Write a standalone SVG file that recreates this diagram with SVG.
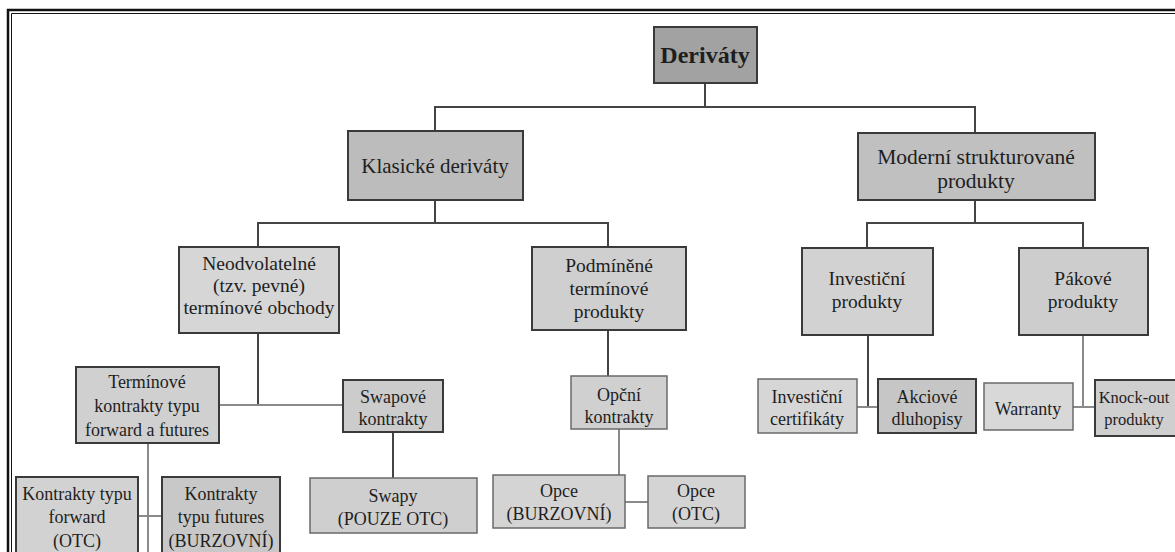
<svg xmlns="http://www.w3.org/2000/svg" width="1175" height="552" viewBox="0 0 1175 552">
<style>
text{font-family:"Liberation Serif","Times New Roman",serif;fill:#1e1e1e;text-anchor:middle}
.t18{font-size:19.5px}
.t17{font-size:18px}
.box{stroke:#3a3a3a;stroke-width:2}
.lt{stroke:#6a6a6a;stroke-width:1.5}
.c{fill:none;stroke:#444;stroke-width:2}
.cl{fill:none;stroke:#8a8a8a;stroke-width:2}
</style>
<rect width="1175" height="552" fill="#fff"/>
<g id="frame" fill="none" stroke="#111">
<path d="M8,552 V10 H1175" stroke-width="2.5"/>
<path d="M11.5,552 V13.5 H1175" stroke-width="1"/>
</g>
<g id="connectors">
<path class="c" d="M705,83 V107 M435,131 V107 H975 V133"/>
<path class="c" d="M435,200 V223 M258,247 V223 H608 V247"/>
<path class="c" d="M975,200 V223 M867,248 V223 H1083 V248"/>
<path class="c" d="M258,333 V405"/>
<path class="cl" d="M219,405 H343"/>
<path class="c" d="M393,432 V478"/>
<path class="cl" d="M148,443 V552 M138,516 H162"/>
<path class="c" d="M608,330 V376"/>
<path class="cl" d="M619,429 V475 M625,502 H648"/>
<path class="c" d="M868,335 V407"/>
<path class="cl" d="M857,407 H878"/>
<path class="cl" d="M1083,335 V407 M1073,407 H1095"/>
</g>
<g id="n-derivaty"><rect class="box" x="654" y="27" width="103" height="56" fill="#a2a2a2" stroke-width="2.5"/><text x="705" y="63" style="font-size:24px;font-weight:bold">Deriváty</text></g>
<g id="n-klasicke"><rect class="box" x="348" y="131" width="175" height="69" fill="#bcbcbc"/><text x="435" y="173" style="font-size:21px">Klasické deriváty</text></g>
<g id="n-moderni"><rect class="box" x="858" y="133" width="237" height="67" fill="#c0c0c0"/><text x="976" y="164" style="font-size:21.5px">Moderní strukturované</text><text x="976" y="188" style="font-size:21.5px">produkty</text></g>
<g id="n-neodvolatelne"><rect class="box" x="179" y="247" width="160" height="86" fill="#d6d6d6"/><text class="t18" x="259" y="270">Neodvolatelné</text><text class="t18" x="259" y="292">(tzv. pevné)</text><text class="t18" x="259" y="314">termínové obchody</text></g>
<g id="n-podminene"><rect class="box" x="532" y="247" width="154" height="83" fill="#cfcfcf"/><text class="t18" x="609" y="272">Podmíněné</text><text class="t18" x="609" y="295">termínové</text><text class="t18" x="609" y="318">produkty</text></g>
<g id="n-investicni"><rect class="box" x="802" y="248" width="131" height="87" fill="#d2d2d2"/><text class="t18" x="867" y="285">Investiční</text><text class="t18" x="867" y="308">produkty</text></g>
<g id="n-pakove"><rect class="box" x="1019" y="248" width="129" height="87" fill="#cdcdcd"/><text class="t18" x="1083" y="285">Pákové</text><text class="t18" x="1083" y="308">produkty</text></g>
<g id="n-terminove"><rect class="box" x="76" y="367" width="143" height="76" fill="#d0d0d0" stroke="#555"/><text class="t17" x="147" y="388">Termínové</text><text class="t17" x="147" y="412">kontrakty typu</text><text class="t17" x="147" y="436">forward a futures</text></g>
<g id="n-swapove"><rect class="box" x="343" y="380" width="100" height="52" fill="#cccccc" stroke="#555"/><text class="t17" x="393" y="403">Swapové</text><text class="t17" x="393" y="425">kontrakty</text></g>
<g id="n-forward"><rect class="box" x="16" y="477" width="122" height="85" fill="#d2d2d2" stroke="#555"/><text class="t17" x="77" y="500">Kontrakty typu</text><text class="t17" x="77" y="523">forward</text><text class="t17" x="77" y="547">(OTC)</text></g>
<g id="n-futures"><rect class="box" x="162" y="477" width="118" height="85" fill="#c8c8c8" stroke="#666"/><text class="t17" x="221" y="500">Kontrakty</text><text class="t17" x="221" y="523">typu futures</text><text class="t17" x="221" y="547">(BURZOVNÍ)</text></g>
<g id="n-swapy"><rect class="lt" x="310" y="478" width="167" height="55" fill="#cfcfcf"/><text class="t17" x="393" y="502">Swapy</text><text class="t17" x="393" y="525">(POUZE OTC)</text></g>
<g id="n-opcni"><rect class="lt" x="571" y="376" width="96" height="53" fill="#d0d0d0"/><text class="t17" x="619" y="401">Opční</text><text class="t17" x="619" y="423">kontrakty</text></g>
<g id="n-opce-burz"><rect class="lt" x="493" y="475" width="132" height="53" fill="#d4d4d4"/><text class="t17" x="559" y="497">Opce</text><text class="t17" x="559" y="520">(BURZOVNÍ)</text></g>
<g id="n-opce-otc"><rect class="lt" x="648" y="476" width="97" height="52" fill="#d4d4d4"/><text class="t17" x="696" y="497">Opce</text><text class="t17" x="696" y="520">(OTC)</text></g>
<g id="n-certifikaty"><rect class="lt" x="758" y="379" width="99" height="54" fill="#d6d6d6"/><text class="t17" x="807" y="403">Investiční</text><text class="t17" x="807" y="425">certifikáty</text></g>
<g id="n-akciove"><rect class="box" x="878" y="379" width="98" height="54" fill="#c6c6c6" stroke="#555"/><text class="t17" x="927" y="403">Akciové</text><text class="t17" x="927" y="425">dluhopisy</text></g>
<g id="n-warranty"><rect class="lt" x="984" y="383" width="89" height="47" fill="#d8d8d8"/><text class="t17" x="1028" y="415">Warranty</text></g>
<g id="n-knockout"><rect class="box" x="1095" y="380" width="90" height="56" fill="#cfcfcf" stroke="#555"/><text x="1134" y="403" style="font-size:16.5px">Knock-out</text><text x="1134" y="425" style="font-size:16.5px">produkty</text></g>
</svg>
